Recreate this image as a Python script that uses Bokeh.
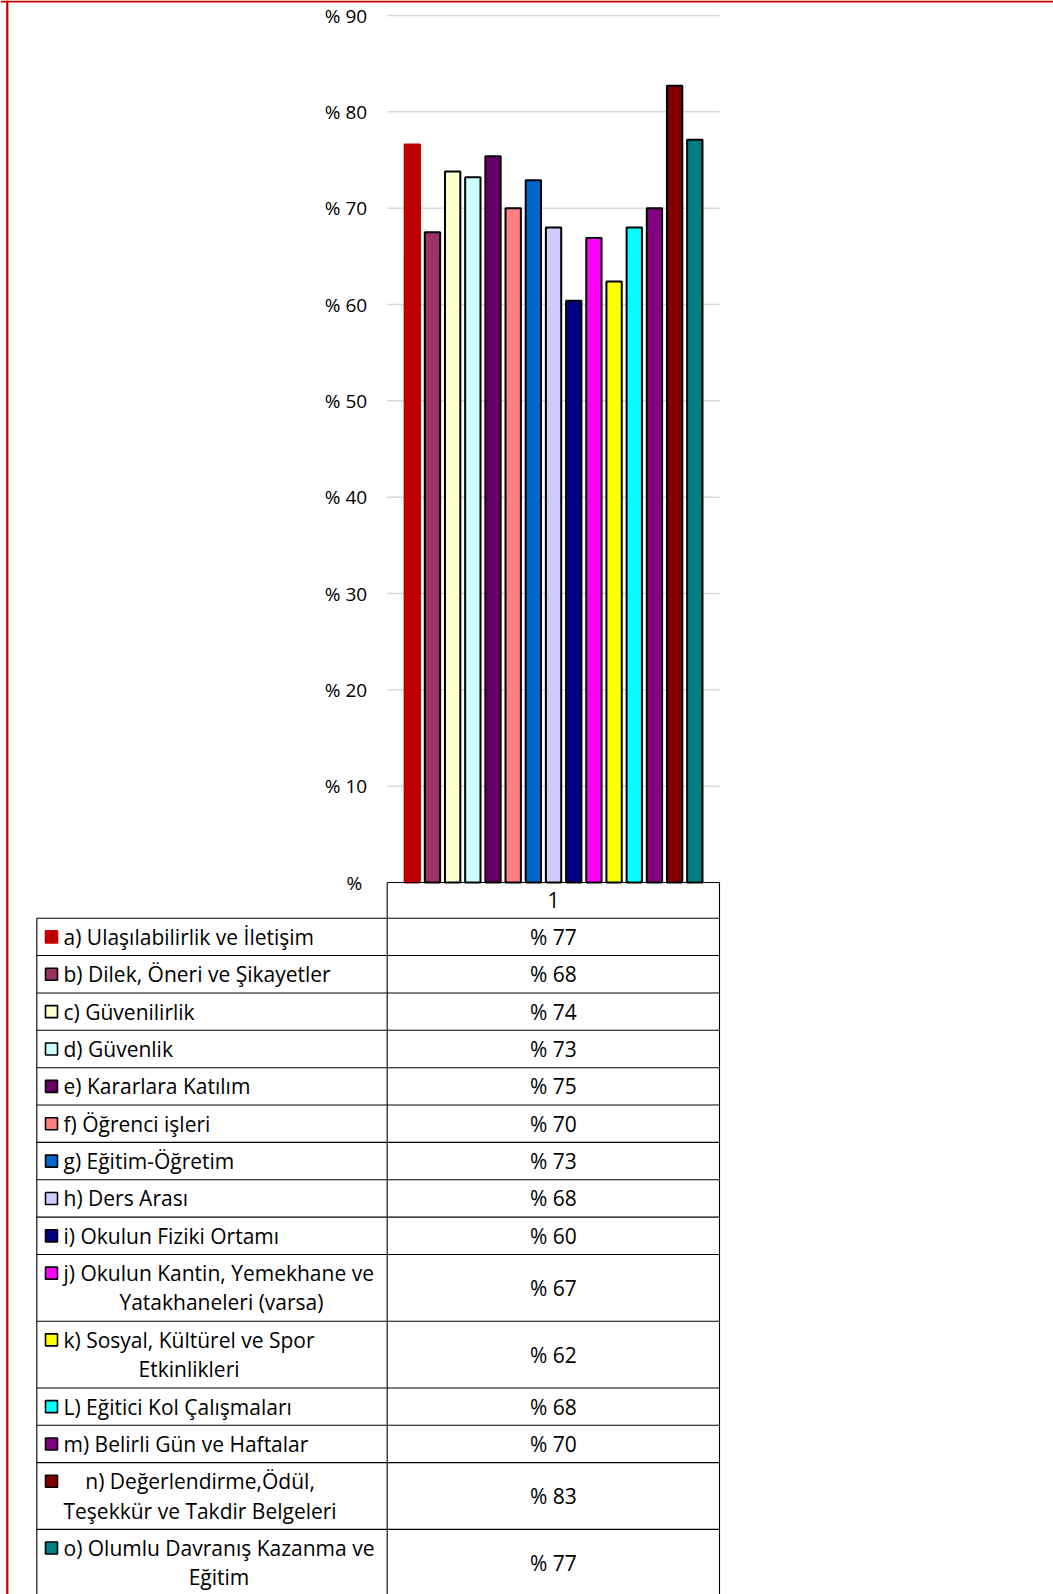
from bokeh.plotting import figure
from bokeh.models import Range1d, FixedTicker, LinearAxis
from bokeh.core.properties import value
from bokeh.embed import file_html
from bokeh.resources import INLINE

# ---------------- data ----------------
categories = ["1"]
series_labels = [
    "a) Ulaşılabilirlik ve İletişim",
    "b) Dilek, Öneri ve Şikayetler",
    "c) Güvenilirlik",
    "d) Güvenlik",
    "e) Kararlara Katılım",
    "f) Öğrenci işleri",
    "g) Eğitim-Öğretim",
    "h) Ders Arası",
    "i) Okulun Fiziki Ortamı",
    "j) Okulun  Kantin, Yemekhane ve\nYatakhaneleri (varsa)",
    "k) Sosyal, Kültürel ve Spor\nEtkinlikleri",
    "L) Eğitici Kol Çalışmaları",
    "m) Belirli Gün ve Haftalar",
    "n) Değerlendirme,Ödül,\nTeşekkür ve Takdir Belgeleri",
    "o) Olumlu Davranış Kazanma ve\nEğitim",
]
series_values = [76.6, 67.5, 73.8, 73.2, 75.4, 70.0, 72.9, 68.0, 60.4, 66.9, 62.4, 68.0, 70.0, 82.7, 77.1]
table_labels = ["% 77", "% 68", "% 74", "% 73", "% 75", "% 70", "% 73", "% 68", "% 60",
                "% 67", "% 62", "% 68", "% 70", "% 83", "% 77"]
series_colors = ["#C00000", "#993366", "#FFFFCC", "#CCFFFF", "#660066", "#FF8080", "#0066CC",
                 "#CCCCFF", "#000080", "#FF00FF", "#FFFF00", "#00FFFF", "#800080", "#800000", "#008080"]
y_tick_values = [0, 10, 20, 30, 40, 50, 60, 70, 80, 90]
y_tick_labels = ["% ", "% 10", "% 20", "% 30", "% 40", "% 50", "% 60", "% 70", "% 80", "% 90"]

# ---------------- layout constants (page pixels) ----------------
W, H = 1053, 1594
FONT = "Open Sans"
TXT = "21px"
outline_colors = [series_colors[0]] + ["black"] * (len(series_colors) - 1)

plot_l, plot_r = 386.7, 719.0          # plot area / table right column
zero_px, top_px = 882.0, 15.0          # pixel rows of 0 and 90
px_per_unit_y = (zero_px - top_px) / 90.0
pitch = 20.18                          # bar spacing in px
center_px = 553.05
n = len(series_values)
mid_idx = (n - 1) / 2.0

def xdata(px):
    return mid_idx + (px - center_px) / pitch

def ydata(py):
    return (zero_px - py) / px_per_unit_y

p = figure(width=W, height=H, x_range=Range1d(0, W), y_range=Range1d(H, 0),
           x_axis_type=None, y_axis_type=None, output_backend="svg",
           toolbar_location=None, min_border=0)
p.outline_line_color = None
p.grid.visible = False
p.extra_x_ranges = {"bars": Range1d(xdata(0), xdata(W))}
p.extra_y_ranges = {"pct": Range1d(ydata(H), ydata(0))}

# value axis of the chart
ax = LinearAxis(y_range_name="pct", fixed_location=plot_l,
                ticker=FixedTicker(ticks=y_tick_values))
ax.major_label_overrides = {v: lab for v, lab in zip(y_tick_values, y_tick_labels)}
ax.axis_line_color = None
ax.major_tick_line_color = None
ax.minor_tick_line_color = None
ax.major_tick_in = 0
ax.major_tick_out = 0
ax.major_label_standoff = 20
ax.major_label_text_font = FONT
ax.major_label_text_font_size = "19px"
ax.major_label_text_color = "black"
p.add_layout(ax, "left")

# gridlines
grid_ticks = y_tick_values[1:]
p.segment(x0=[plot_l] * len(grid_ticks), x1=[plot_r] * len(grid_ticks),
          y0=grid_ticks, y1=grid_ticks, y_range_name="pct",
          line_color="#D9D9D9", line_width=1.5)

# bars
xs = list(range(n))
p.vbar(x=xs, top=series_values, bottom=0, width=0.76,
       x_range_name="bars", y_range_name="pct",
       fill_color=series_colors, line_color=outline_colors, line_width=2)

# ---------------- data table ----------------
tab_l, tab_m, tab_r = 36.3, plot_l, plot_r
head_top, head_bot = zero_px, 917.7
single_h, double_h = 37.37, 66.7
line_gap = 29.5

row_edges = [head_bot]
for lab in series_labels:
    nl = lab.count("\n") + 1
    row_edges.append(row_edges[-1] + (single_h if nl == 1 else double_h))

lx, ly = [], []
# header cell
lx += [[tab_m, tab_r], [tab_m, tab_m], [tab_r, tab_r]]
ly += [[head_top, head_top], [head_top, head_bot], [head_top, head_bot]]
for e in row_edges:
    lx.append([tab_l, tab_r])
    ly.append([e, e])
for vx in (tab_l, tab_m, tab_r):
    lx.append([vx, vx])
    ly.append([head_bot, H + 5])
p.multi_line(xs=lx, ys=ly, line_color="black", line_width=1.1)

p.text(x=[mid_idx], y=[(head_top + head_bot) / 2], text=categories, x_range_name="bars",
       text_align="center", text_baseline="middle", text_font=value(FONT),
       text_font_size=TXT, text_color="black")

row_c = [(row_edges[i] + row_edges[i + 1]) / 2 for i in range(n)]
key_y = [row_c[i] - series_labels[i].count("\n") * line_gap / 2 for i in range(n)]

p.scatter(x=[51] * n, y=key_y, marker="square", size=12, fill_color=series_colors,
          line_color=outline_colors, line_width=1.6)
p.text(x=[63] * n, y=row_c, text=series_labels, anchor="center_left", text_align="center",
       text_baseline="middle", text_line_height=1.04,
       text_font=value(FONT), text_font_size=TXT, text_color="black")
p.text(x=[(tab_m + tab_r) / 2] * n, y=row_c, text=table_labels, text_align="center",
       text_baseline="middle", text_font=value(FONT), text_font_size=TXT, text_color="black")

# red frame of the original picture
p.multi_line(xs=[[0, W], [6.8, 6.8]], ys=[[1.0, 1.0], [0, H]], line_color="#C00000", line_width=2.2)

open("out.html", "w").write(file_html(p, INLINE))
